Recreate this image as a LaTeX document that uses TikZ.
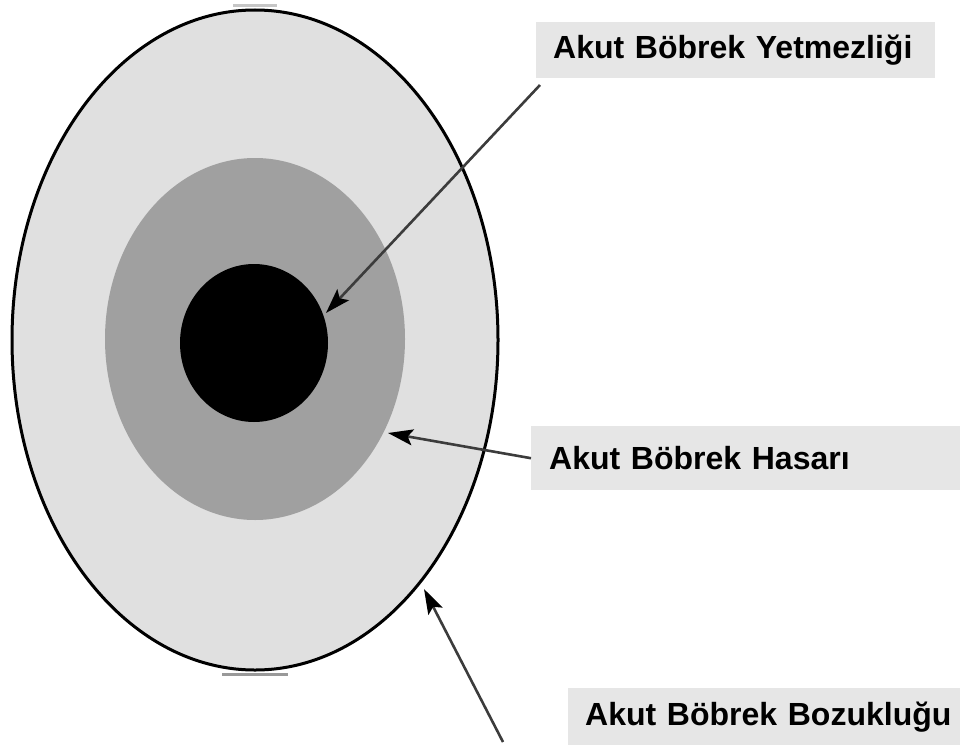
\documentclass[tikz,border=0pt]{standalone}
\usepackage{fontspec}
\setmainfont{Liberation Sans}
\usepackage{xcolor}
\usepackage{tikz}
\usetikzlibrary{arrows.meta, positioning, shapes.geometric}

\definecolor{boxgray}{HTML}{E6E6E6}
\definecolor{ringlight}{HTML}{E0E0E0}
\definecolor{ringmid}{HTML}{A0A0A0}
\definecolor{linegray}{HTML}{3C3C3C}

\begin{document}
\begin{tikzpicture}[
    ring/.style={ellipse, inner sep=0pt},
    lbl/.style={anchor=north west, fill=boxgray, inner sep=0pt, align=left,
                font=\bfseries\fontsize{32}{38}\selectfont},
    ptr/.style={draw=linegray, line width=2.6pt,
                -{Stealth[length=25pt, width=16pt, inset=5pt, black]}},
    x=1pt, y=-1pt
  ]
  \useasboundingbox (0,0) rectangle (960,752);
  % rings
  \node[ring, draw=black, line width=3pt, fill=ringlight,
        minimum width=486pt, minimum height=660pt] (outer) at (255,340) {};
  \node[ring, fill=ringmid, minimum width=300pt, minimum height=362pt] (middle) at (255,339) {};
  \node[ring, fill=black, minimum width=148pt, minimum height=158pt] (inner) at (254,343) {};
  \draw[gray!45, line width=3pt] (233,6) -- (277,6);
  \draw[gray!80, line width=3pt] (222,674) -- (288,674);
  % labels
  \node[lbl, text width=399pt, minimum height=56pt] (yetmez) at (536,22)
    {\hspace*{17pt}Akut Böbrek Yetmezliği};
  \node[lbl, text width=429pt, minimum height=64pt] (hasar) at (531,426)
    {\hspace*{18pt}Akut Böbrek Hasarı};
  \node[lbl, text width=392pt, minimum height=57pt] (bozuk) at (568,688)
    {\hspace*{17pt}Akut Böbrek Bozukluğu};
  % pointers
  \coordinate (yetmezTail) at (540,85);
  \coordinate (yetmezTip) at (326,313);
  \coordinate (hasarTip) at (388,433);
  \coordinate (bozukTail) at (503,742);
  \coordinate (bozukTip) at (424,589);
  \draw[ptr] (yetmezTail) -- (yetmezTip);
  \draw[ptr] (hasar.west) -- (hasarTip);
  \draw[ptr] (bozukTail) -- (bozukTip);
\end{tikzpicture}
\end{document}
